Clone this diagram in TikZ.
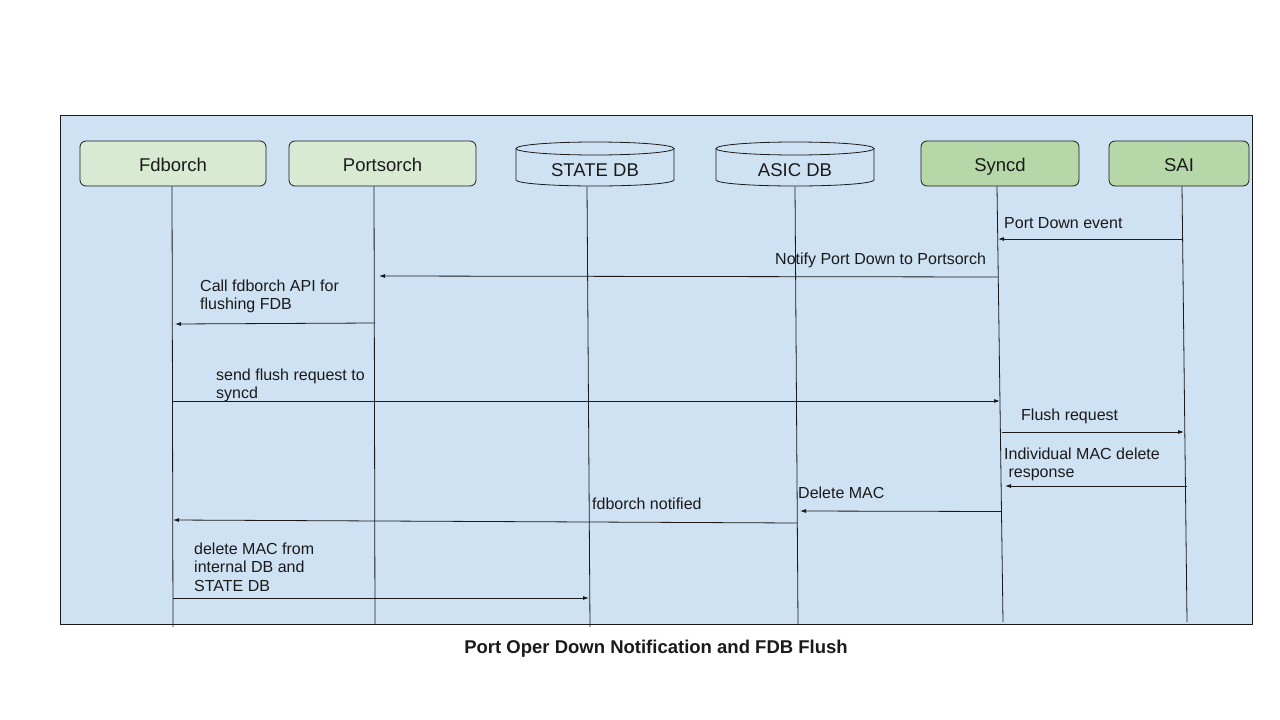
\documentclass[tikz,border=0pt]{standalone}
\usepackage{fontspec}
\setmainfont{Liberation Sans}
\usetikzlibrary{arrows.meta}
\definecolor{bgblue}{HTML}{CFE2F3}
\definecolor{lgreen}{HTML}{D9EAD3}
\definecolor{mgreen}{HTML}{B6D7A8}
\definecolor{ink}{HTML}{1A1A1A}
\begin{document}
\begin{tikzpicture}[x=1pt,y=-1pt,
  actorbox/.style={draw=ink, line width=0.8pt, rounded corners=6pt, minimum height=45pt,
    inner sep=0pt, text height=15.1pt, text depth=0pt, text=ink,
    font=\fontsize{18.5}{22}\selectfont},
  dbtext/.style={inner sep=0pt, text height=13.3pt, text depth=0pt, text=ink,
    font=\fontsize{18.5}{22}\selectfont},
  dbline/.style={draw=ink, line width=0.8pt},
  lifeline/.style={draw=ink, line width=0.8pt},
  msg/.style={draw=ink, line width=0.8pt, -{Latex[length=6pt,width=4pt]}},
  lbl/.style={anchor=north west, inner sep=0pt, align=left, text=ink,
    font=\fontsize{16}{18.5}\selectfont},
  ttl/.style={anchor=base, inner sep=0pt, text=ink, font=\fontsize{18.5}{22}\selectfont\bfseries}
]
\useasboundingbox[fill=white] (0,0) rectangle (1280,720);
% frame
\draw[fill=bgblue, draw=ink, line width=0.8pt] (60,115) rectangle (1252,624);

% actors
\node[actorbox, fill=lgreen, minimum width=186pt] (fdb) at (173,163.5) {Fdborch};
\node[actorbox, fill=lgreen, minimum width=187pt] (port) at (382.5,163.5) {Portsorch};
\node[actorbox, fill=mgreen, minimum width=158pt] (syncd) at (1000,163.5) {Syncd};
\node[actorbox, fill=mgreen, minimum width=140pt] (sai) at (1179,163.5) {SAI};

% databases (cylinders)
\draw[dbline] (595,148.5) ellipse [x radius=79, y radius=6.5];
\draw[dbline] (516,148.5) -- (516,180) arc[start angle=180, end angle=0, x radius=79, y radius=6] -- (674,148.5);
\node[dbtext] (state) at (595,169.8) {STATE DB};
\draw[dbline] (795,148.5) ellipse [x radius=79, y radius=6.5];
\draw[dbline] (716,148.5) -- (716,180) arc[start angle=180, end angle=0, x radius=79, y radius=6] -- (874,148.5);
\node[dbtext] (asic) at (795,169.8) {ASIC DB};

% lifeline ends
\coordinate (statetop) at (587,186.5);
\coordinate (asictop) at (795,186.5);
\coordinate (fdbend) at (173,627);
\coordinate (portend) at (375,624);
\coordinate (stateend) at (590,627);
\coordinate (asicend) at (798,624);
\coordinate (syncdend) at (1003,622);
\coordinate (saiend) at (1187,622);

\draw[lifeline] ([xshift=-1pt]fdb.south) -- (fdbend);
\draw[lifeline] ([xshift=-8.5pt]port.south) -- (portend);
\draw[lifeline] (statetop) -- (stateend);
\draw[lifeline] (asictop) -- (asicend);
\draw[lifeline] ([xshift=-3pt]syncd.south) -- (syncdend);
\draw[lifeline] ([xshift=3pt]sai.south) -- (saiend);

% message end points
\coordinate (m1a) at (1182,239);   \coordinate (m1b) at (998,239);
\coordinate (m2a) at (998,277);    \coordinate (m2b) at (379,276);
\coordinate (m3a) at (375,323);    \coordinate (m3b) at (175,324);
\coordinate (m4a) at (173,401);    \coordinate (m4b) at (1000,401);
\coordinate (m5a) at (1002,432);   \coordinate (m5b) at (1184,432);
\coordinate (m6a) at (1187,486);   \coordinate (m6b) at (1005,486);
\coordinate (m7a) at (1002,511.5); \coordinate (m7b) at (800,511);
\coordinate (m8a) at (797,523);    \coordinate (m8b) at (173,520);
\coordinate (m9a) at (173,598);    \coordinate (m9b) at (589,598);

\draw[msg] (m1a) -- (m1b);
\draw[msg] (m2a) -- (m2b);
\draw[msg] (m3a) -- (m3b);
\draw[msg] (m4a) -- (m4b);
\draw[msg] (m5a) -- (m5b);
\draw[msg] (m6a) -- (m6b);
\draw[msg] (m7a) -- (m7b);
\draw[msg] (m8a) -- (m8b);
\draw[msg] (m9a) -- (m9b);

% labels
\node[lbl] (l1) at (1004,217.5) {Port Down event};
\node[lbl] (l2) at (775,252.5) {Notify Port Down to Portsorch};
\node[lbl] (l3) at (200,279.5) {Call fdborch API for\\flushing FDB};
\node[lbl] (l4) at (216,368.5) {send flush request to\\syncd};
\node[lbl] (l5) at (1021,408.5) {Flush request};
\node[lbl] (l6) at (1004,447.5) {Individual MAC delete\\\hspace*{4.4pt}response};
\node[lbl] (l7) at (798,486.5) {Delete MAC};
\node[lbl] (l8) at (592,497.5) {fdborch notified};
\node[lbl] (l9) at (194,542.5) {delete MAC from\\internal DB and\\STATE DB};

% title
\node[ttl] (title) at (656,653) {Port Oper Down Notification and FDB Flush};
\end{tikzpicture}
\end{document}
